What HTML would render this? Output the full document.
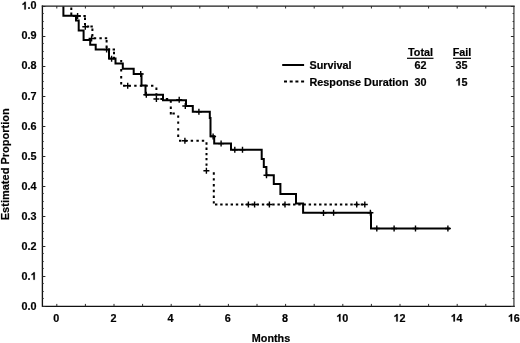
<!DOCTYPE html>
<html><head><meta charset="utf-8"><style>
html,body{margin:0;padding:0;background:#fff;}
body{width:520px;height:343px;overflow:hidden;}
svg{display:block;will-change:transform;}
text{stroke:#000;stroke-width:0.2px;font-family:"Liberation Sans",sans-serif;font-weight:bold;font-size:10.8px;fill:#000;}
</style></head><body>
<svg width="520" height="343" viewBox="0 0 520 343">
<path d="M513.9 6V306.4" stroke="#707070" stroke-width="1.7" fill="none"/>
<path d="M41.8 6.2H514.6999999999999" stroke="#1c1c1c" stroke-width="1.3" fill="none"/>
<path d="M42.4 5.6V306.4M41.8 306.4H514.6999999999999" stroke="#111" stroke-width="1.35" fill="none"/>
<path d="M56.80 306.4v-2.5M56.80 6v2.5M85.40 306.4v-2.5M85.40 6v2.5M114.00 306.4v-2.5M114.00 6v2.5M142.60 306.4v-2.5M142.60 6v2.5M171.20 306.4v-2.5M171.20 6v2.5M199.80 306.4v-2.5M199.80 6v2.5M228.40 306.4v-2.5M228.40 6v2.5M257.00 306.4v-2.5M257.00 6v2.5M285.60 306.4v-2.5M285.60 6v2.5M314.20 306.4v-2.5M314.20 6v2.5M342.80 306.4v-2.5M342.80 6v2.5M371.40 306.4v-2.5M371.40 6v2.5M400.00 306.4v-2.5M400.00 6v2.5M428.60 306.4v-2.5M428.60 6v2.5M457.20 306.4v-2.5M457.20 6v2.5M485.80 306.4v-2.5M485.80 6v2.5M42.4 306.50h3M513.9 306.50h-3M42.4 298.50h1.3M513.9 298.50h-1.3M42.4 291.50h1.3M513.9 291.50h-1.3M42.4 283.50h1.3M513.9 283.50h-1.3M42.4 276.50h3M513.9 276.50h-3M42.4 268.50h1.3M513.9 268.50h-1.3M42.4 261.50h1.3M513.9 261.50h-1.3M42.4 253.50h1.3M513.9 253.50h-1.3M42.4 246.50h3M513.9 246.50h-3M42.4 238.50h1.3M513.9 238.50h-1.3M42.4 231.50h1.3M513.9 231.50h-1.3M42.4 223.50h1.3M513.9 223.50h-1.3M42.4 216.50h3M513.9 216.50h-3M42.4 208.50h1.3M513.9 208.50h-1.3M42.4 201.50h1.3M513.9 201.50h-1.3M42.4 193.50h1.3M513.9 193.50h-1.3M42.4 186.50h3M513.9 186.50h-3M42.4 178.50h1.3M513.9 178.50h-1.3M42.4 171.50h1.3M513.9 171.50h-1.3M42.4 163.50h1.3M513.9 163.50h-1.3M42.4 156.50h3M513.9 156.50h-3M42.4 148.50h1.3M513.9 148.50h-1.3M42.4 141.50h1.3M513.9 141.50h-1.3M42.4 133.50h1.3M513.9 133.50h-1.3M42.4 126.50h3M513.9 126.50h-3M42.4 118.50h1.3M513.9 118.50h-1.3M42.4 111.50h1.3M513.9 111.50h-1.3M42.4 103.50h1.3M513.9 103.50h-1.3M42.4 96.50h3M513.9 96.50h-3M42.4 88.50h1.3M513.9 88.50h-1.3M42.4 81.50h1.3M513.9 81.50h-1.3M42.4 73.50h1.3M513.9 73.50h-1.3M42.4 66.50h3M513.9 66.50h-3M42.4 58.50h1.3M513.9 58.50h-1.3M42.4 51.50h1.3M513.9 51.50h-1.3M42.4 43.50h1.3M513.9 43.50h-1.3M42.4 36.50h3M513.9 36.50h-3M42.4 28.50h1.3M513.9 28.50h-1.3M42.4 21.50h1.3M513.9 21.50h-1.3M42.4 13.50h1.3M513.9 13.50h-1.3M42.4 6.50h3M513.9 6.50h-3" stroke="#2a2a2a" stroke-width="1" fill="none"/>
<g><text x="36.50" y="309.80" text-anchor="end">0.0</text><text x="21.49" y="279.76">0.</text><path d="M540,0L540,1045C440,952 320,884 190,840L190,1090C260,1113 340,1160 420,1225C500,1290 560,1360 590,1430L820,1430L820,0Z" transform="translate(30.494,279.76) scale(0.005273,-0.005273)" fill="#000" stroke="#000" stroke-width="37.9"/><text x="36.50" y="249.72" text-anchor="end">0.2</text><text x="36.50" y="219.68" text-anchor="end">0.3</text><text x="36.50" y="189.64" text-anchor="end">0.4</text><text x="36.50" y="159.60" text-anchor="end">0.5</text><text x="36.50" y="129.56" text-anchor="end">0.6</text><text x="36.50" y="99.52" text-anchor="end">0.7</text><text x="36.50" y="69.48" text-anchor="end">0.8</text><text x="36.50" y="39.44" text-anchor="end">0.9</text><path d="M540,0L540,1045C440,952 320,884 190,840L190,1090C260,1113 340,1160 420,1225C500,1290 560,1360 590,1430L820,1430L820,0Z" transform="translate(21.487,9.40) scale(0.005273,-0.005273)" fill="#000" stroke="#000" stroke-width="37.9"/><text x="27.49" y="9.40">.0</text></g>
<g><text x="56.20" y="321.50" text-anchor="middle">0</text><text x="113.40" y="321.50" text-anchor="middle">2</text><text x="170.60" y="321.50" text-anchor="middle">4</text><text x="227.80" y="321.50" text-anchor="middle">6</text><text x="285.00" y="321.50" text-anchor="middle">8</text><path d="M540,0L540,1045C440,952 320,884 190,840L190,1090C260,1113 340,1160 420,1225C500,1290 560,1360 590,1430L820,1430L820,0Z" transform="translate(336.194,321.50) scale(0.005273,-0.005273)" fill="#000" stroke="#000" stroke-width="37.9"/><text x="342.20" y="321.50">0</text><path d="M540,0L540,1045C440,952 320,884 190,840L190,1090C260,1113 340,1160 420,1225C500,1290 560,1360 590,1430L820,1430L820,0Z" transform="translate(393.394,321.50) scale(0.005273,-0.005273)" fill="#000" stroke="#000" stroke-width="37.9"/><text x="399.40" y="321.50">2</text><path d="M540,0L540,1045C440,952 320,884 190,840L190,1090C260,1113 340,1160 420,1225C500,1290 560,1360 590,1430L820,1430L820,0Z" transform="translate(450.594,321.50) scale(0.005273,-0.005273)" fill="#000" stroke="#000" stroke-width="37.9"/><text x="456.60" y="321.50">4</text><path d="M540,0L540,1045C440,952 320,884 190,840L190,1090C260,1113 340,1160 420,1225C500,1290 560,1360 590,1430L820,1430L820,0Z" transform="translate(507.794,321.50) scale(0.005273,-0.005273)" fill="#000" stroke="#000" stroke-width="37.9"/><text x="513.80" y="321.50">6</text></g>
<text x="271" y="341.5" text-anchor="middle">Months</text>
<text transform="translate(9.4,164.3) rotate(-90)" text-anchor="middle" style="font-size:11px">Estimated Proportion</text>
<path d="M71.3 7.50V9.90M71.3 12.60V15.00M72.80 16H75.20M78.30 16H80.70M83.40 16H85.80M85 17.60V20.00M85 22.90V25.30M86.80 26.5H89.20M90.40 26.5H92.80M92.4 28.60V31.00M92.4 34.10V36.50M93.80 38.3H96.20M99.40 38.3H101.80M104.80 38.3H107.20M106.6 40.00V42.40M106.6 45.60V48.00M107.80 49.6H110.20M112.60 49.6H115.00M114 51.80V54.20M114 56.80V59.20M121.2 59.90V62.30M121.2 69.10V71.50M121.2 76.00V78.40M121.2 82.10V84.50M123.00 85.7H125.40M128.50 85.7H130.90M134.20 85.7H136.60M139.80 85.7H142.20M145.40 85.7H147.80M151.00 85.7H153.40M156.4 87.60V90.00M156.4 93.20V95.60M160.30 99H162.70M165.80 99H168.20M170.8 100.40V102.80M170.8 106.60V109.00M170.8 112.00V114.40M172.40 113.4H174.80M178.2 115.40V117.80M178.2 121.40V123.80M178.2 128.20V130.60M178.2 134.60V137.00M179.00 140.7H181.40M184.80 140.7H187.20M190.70 140.7H193.10M196.40 140.7H198.80M201.80 140.7H204.20M206.5 142.30V144.70M206.5 147.60V150.00M206.5 152.90V155.30M206.5 157.90V160.30M206.5 163.40V165.80M213.8 172.30V174.70M213.8 178.20V180.60M213.8 184.00V186.40M213.8 189.80V192.20M213.8 195.60V198.00M213.8 201.20V203.60M215.00 204.5H217.40M220.20 204.5H222.60M225.41 204.5H227.81M230.61 204.5H233.01M235.82 204.5H238.22M241.02 204.5H243.42M246.22 204.5H248.62M251.43 204.5H253.83M256.63 204.5H259.03M261.84 204.5H264.24M267.04 204.5H269.44M272.24 204.5H274.64M277.45 204.5H279.85M282.65 204.5H285.05M287.86 204.5H290.26M293.06 204.5H295.46M298.26 204.5H300.66M303.47 204.5H305.87M308.67 204.5H311.07M313.88 204.5H316.28M319.08 204.5H321.48M324.28 204.5H326.68M329.49 204.5H331.89M334.69 204.5H337.09M339.90 204.5H342.30M345.10 204.5H347.50M350.30 204.5H352.70M355.51 204.5H357.91M360.71 204.5H363.11" fill="none" stroke="#000" stroke-width="2"/>
<path d="M82.3 26.8h6M85.3 23.8v6M124.7 85.7h6M127.7 82.7v6M153.4 99h6M156.4 96v6M181.9 140.8h6M184.9 137.8v6M203.4 170.8h6M206.4 167.8v6M245.4 204.5h6M248.4 201.5v6M251.6 204.5h6M254.6 201.5v6M266.4 204.5h6M269.4 201.5v6M282 204.5h6M285 201.5v6M353.7 204.5h6M356.7 201.5v6M361.8 204.5h6M364.8 201.5v6" stroke="#000" stroke-width="1.4" fill="none"/>
<polyline points="63.4,6.5 63.4,15.7 76,15.7 76,20.5 78.7,20.5 78.7,30.5 83.6,30.5 83.6,39.9 90.2,39.9 90.2,44.7 95.7,44.7 95.7,49.5 109,49.5 109,58.6 115.5,58.6 115.5,63.6 122.8,63.6 122.8,68.7 133.7,68.7 133.7,74 141.5,74 141.5,85.5 145.5,85.5 145.5,94.7 163,94.7 163,100.3 186,100.3 186,105.9 192.8,105.9 192.8,111.8 209.8,111.8 209.8,118 210.5,118 210.5,136.3 214.2,136.3 214.2,143.6 231,143.6 231,149.8 261.7,149.8 261.7,158.9 263.8,158.9 263.8,167 266.4,167 266.4,175.2 273.8,175.2 273.8,183.9 280.4,183.9 280.4,194 296,194 296,203.6 303.1,203.6 303.1,212.7 371,212.7 371,228.5 450,228.5" fill="none" stroke="#000" stroke-width="2" stroke-linejoin="miter"/>
<path d="M74.6 16h6M77.6 13v6M88.6 38.5h6M91.6 35.5v6M103.6 49.6h6M106.6 46.6v6M108.6 58.7h6M111.6 55.7v6M137.7 74h6M140.7 71v6M143.3 94.8h6M146.3 91.8v6M176.2 99.8h6M179.2 96.8v6M182.3 106h6M185.3 103v6M195.9 111.8h6M198.9 108.8v6M210.1 136.5h6M213.1 133.5v6M218.1 143.6h6M221.1 140.6v6M231.8 149.8h6M234.8 146.8v6M239.5 149.8h6M242.5 146.8v6M263.5 175.2h6M266.5 172.2v6M320.5 213h6M323.5 210v6M330.6 212.7h6M333.6 209.7v6M367.4 212.7h6M370.4 209.7v6M373.8 228.5h6M376.8 225.5v6M391.1 228.5h6M394.1 225.5v6M412.5 228.5h6M415.5 225.5v6M444.9 228.5h6M447.9 225.5v6" stroke="#000" stroke-width="1.4" fill="none"/>
<line x1="282.2" y1="65" x2="304.1" y2="65" stroke="#000" stroke-width="2"/>
<line x1="284" y1="81.4" x2="305" y2="81.4" stroke="#000" stroke-width="2" stroke-dasharray="3 2.7"/>
<text x="309.5" y="69.3">Survival</text>
<text x="309.5" y="85.6">Response Duration</text>
<text x="420.5" y="55.8" text-anchor="middle">Total</text>
<text x="462" y="55.8" text-anchor="middle">Fail</text>
<line x1="407" y1="58.3" x2="433.5" y2="58.3" stroke="#000" stroke-width="1.2"/>
<line x1="453" y1="58.3" x2="471" y2="58.3" stroke="#000" stroke-width="1.2"/>
<text x="420.5" y="69.2" text-anchor="middle">62</text>
<text x="461.5" y="69.2" text-anchor="middle">35</text>
<text x="420.5" y="85.6" text-anchor="middle">30</text>
<path d="M540,0L540,1045C440,952 320,884 190,840L190,1090C260,1113 340,1160 420,1225C500,1290 560,1360 590,1430L820,1430L820,0Z" transform="translate(455.494,85.60) scale(0.005273,-0.005273)" fill="#000" stroke="#000" stroke-width="37.9"/><text x="461.50" y="85.60">5</text>
</svg>
</body></html>
